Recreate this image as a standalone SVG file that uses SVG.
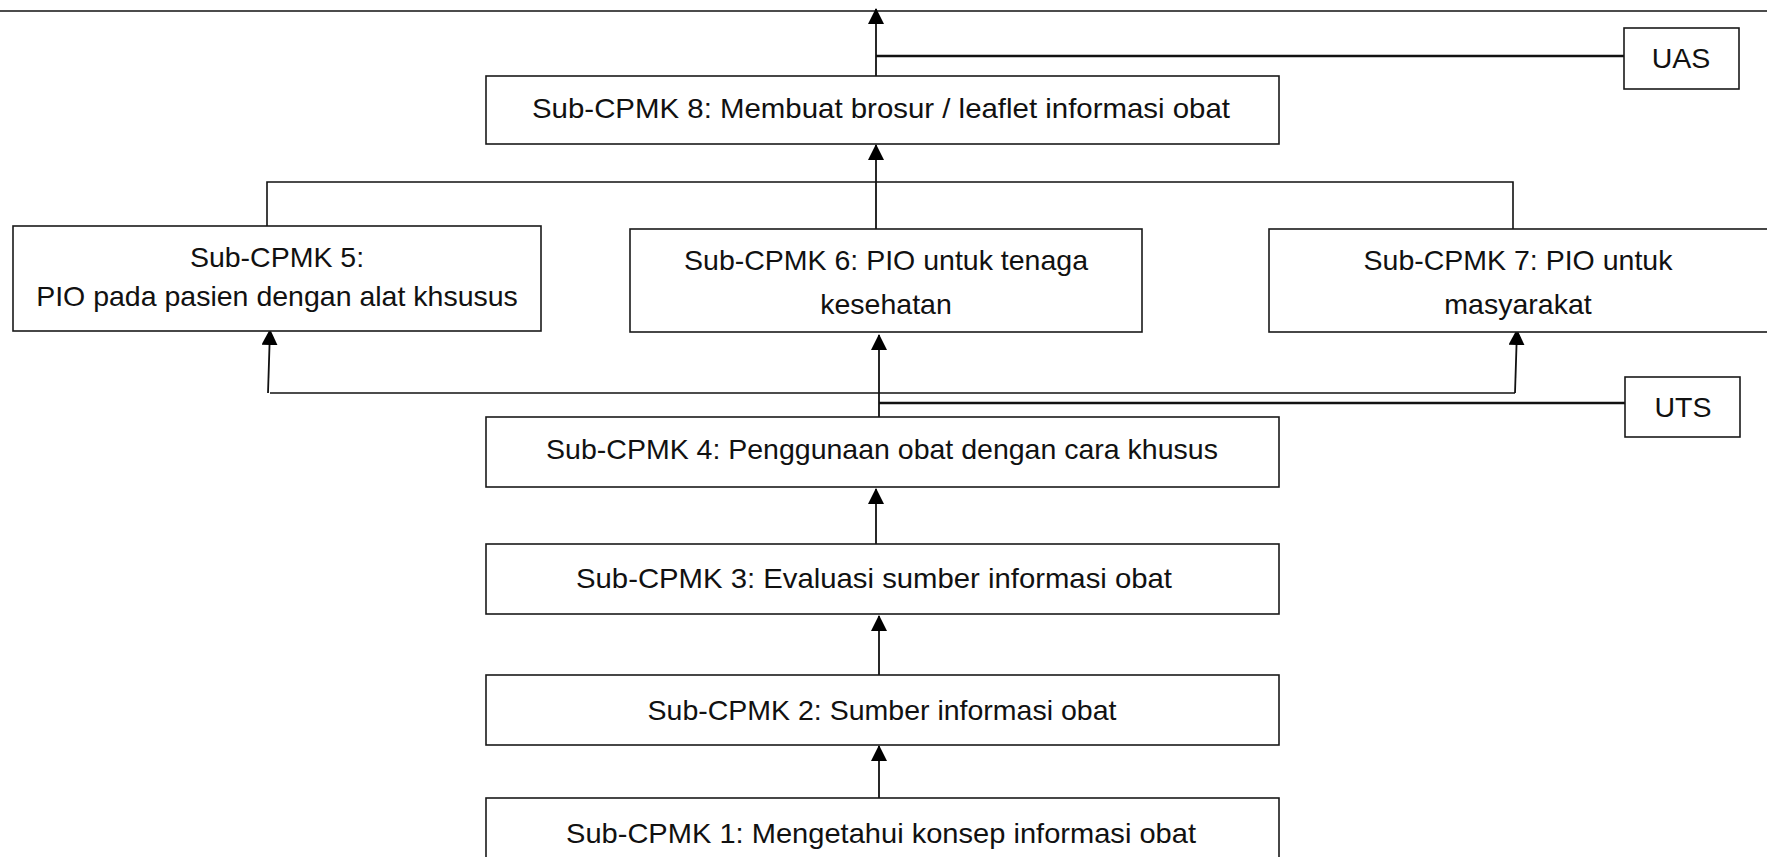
<svg xmlns="http://www.w3.org/2000/svg" width="1767" height="857" viewBox="0 0 1767 857">
<defs>
<marker id="ah" markerUnits="userSpaceOnUse" markerWidth="16" markerHeight="16" viewBox="0 0 16 16" refX="15" refY="8" orient="auto">
<path d="M0,0 L16,8 L0,16 Z" fill="#000"/>
</marker>
</defs>
<style>
.box{fill:#fff;stroke:#1a1a1a;stroke-width:1.6}
.t{font-family:"Liberation Sans",Arial,sans-serif;font-size:28.5px;fill:#111;text-anchor:middle}
.ln{fill:none;stroke:#111;stroke-width:1.6}
.thk{fill:none;stroke:#111;stroke-width:2.6}
.ar{fill:none;stroke:#111;stroke-width:1.8;marker-end:url(#ah)}
</style>
<rect width="1767" height="857" fill="#fff"/>
<g id="connectors">
<line class="ln" x1="0" y1="11" x2="1767" y2="11"/>
<line class="ar" x1="876" y1="76" x2="876" y2="9"/>
<line class="thk" x1="876" y1="56" x2="1624" y2="56"/>
<polyline class="ln" points="267,226 267,182 1513,182 1513,229"/>
<line class="ar" x1="876" y1="229" x2="876" y2="145"/>
<polyline class="ln" points="270,393 1515,393"/>
<line class="ar" x1="268" y1="393" x2="270" y2="330"/>
<line class="ar" x1="1515" y1="393" x2="1517" y2="330"/>
<line class="ar" x1="879" y1="418" x2="879" y2="335"/>
<line class="thk" x1="879" y1="403" x2="1625" y2="403"/>
<line class="ar" x1="876" y1="544" x2="876" y2="489"/>
<line class="ar" x1="879" y1="675" x2="879" y2="616"/>
<line class="ar" x1="879" y1="798" x2="879" y2="746"/>
</g>
<g id="uas">
<rect class="box" x="1624" y="28" width="115" height="61"/>
<text class="t" x="1681" y="68">UAS</text>
</g>
<g id="sub8">
<rect class="box" x="486" y="76" width="793" height="68"/>
<text class="t" x="881" y="118" textLength="698" lengthAdjust="spacingAndGlyphs">Sub-CPMK 8: Membuat brosur / leaflet informasi obat</text>
</g>
<g id="sub5">
<rect class="box" x="13" y="226" width="528" height="105"/>
<text class="t" x="277" y="267">Sub-CPMK 5:</text>
<text class="t" x="277" y="306">PIO pada pasien dengan alat khsusus</text>
</g>
<g id="sub6">
<rect class="box" x="630" y="229" width="512" height="103"/>
<text class="t" x="886" y="270">Sub-CPMK 6: PIO untuk tenaga</text>
<text class="t" x="886" y="314">kesehatan</text>
</g>
<g id="sub7">
<rect class="box" x="1269" y="229" width="502" height="103"/>
<text class="t" x="1518" y="270">Sub-CPMK 7: PIO untuk</text>
<text class="t" x="1518" y="314">masyarakat</text>
</g>
<g id="uts">
<rect class="box" x="1625" y="377" width="115" height="60"/>
<text class="t" x="1683" y="417">UTS</text>
</g>
<g id="sub4">
<rect class="box" x="486" y="417" width="793" height="70"/>
<text class="t" x="882" y="459">Sub-CPMK 4: Penggunaan obat dengan cara khusus</text>
</g>
<g id="sub3">
<rect class="box" x="486" y="544" width="793" height="70"/>
<text class="t" x="874" y="588" textLength="596" lengthAdjust="spacingAndGlyphs">Sub-CPMK 3: Evaluasi sumber informasi obat</text>
</g>
<g id="sub2">
<rect class="box" x="486" y="675" width="793" height="70"/>
<text class="t" x="882" y="720">Sub-CPMK 2: Sumber informasi obat</text>
</g>
<g id="sub1">
<rect class="box" x="486" y="798" width="793" height="70"/>
<text class="t" x="881" y="843" textLength="630" lengthAdjust="spacingAndGlyphs">Sub-CPMK 1: Mengetahui konsep informasi obat</text>
</g>
</svg>
